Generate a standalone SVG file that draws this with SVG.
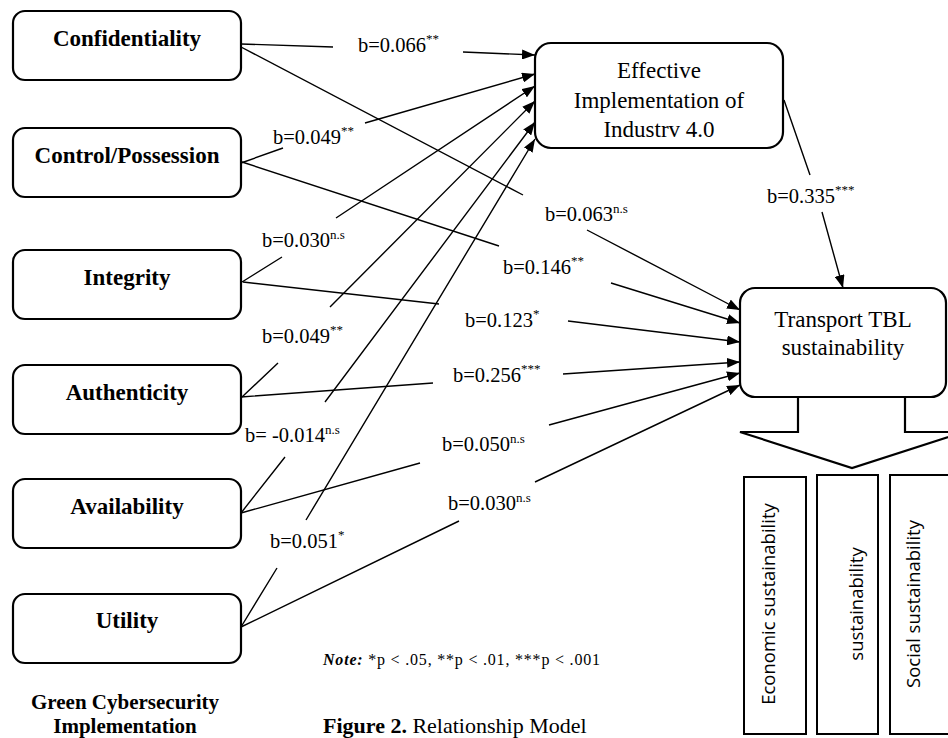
<svg xmlns="http://www.w3.org/2000/svg" width="948" height="738" viewBox="0 0 948 738">
<style>
.box{fill:#fff;stroke:#000;stroke-width:2.2}
.vbox{fill:#fff;stroke:#000;stroke-width:2}
.conn{fill:none;stroke:#000;stroke-width:1.4}
.nl{font-family:"Liberation Serif","Times New Roman",serif;font-weight:bold;font-size:23px;text-anchor:middle;fill:#000}
.rl{font-family:"Liberation Serif","Times New Roman",serif;font-size:23px;text-anchor:middle;fill:#000}
.lab{font-family:"Liberation Serif","Times New Roman",serif;font-size:20.5px;fill:#000}
.sup{font-size:13px}
.vt{font-family:"Open Sans","Noto Sans",sans-serif;font-size:18.5px;text-anchor:middle;fill:#000}
.cap{font-family:"Liberation Serif","Times New Roman",serif;fill:#000}
</style>
<defs>
<marker id="ah" markerUnits="userSpaceOnUse" markerWidth="14" markerHeight="10" refX="13" refY="5" orient="auto">
<path d="M0,0 L13,5 L0,10 z" fill="#000"/>
</marker>
</defs>

<g id="connectors">
<path class="conn" d="M241,44 L333,47 M463,52 L535,55" marker-end="url(#ah)"/>
<path class="conn" d="M241,163 L283,148 M365,123 L535,74" marker-end="url(#ah)"/>
<path class="conn" d="M242,282 L282,257 M336,218 L535,86" marker-end="url(#ah)"/>
<path class="conn" d="M242,397 L278,363 M330,307 L535,101" marker-end="url(#ah)"/>
<path class="conn" d="M241,513 L285,457 M325,402 L535,122" marker-end="url(#ah)"/>
<path class="conn" d="M241,627 L277,568 M306,520 L535,139" marker-end="url(#ah)"/>
<path class="conn" d="M241,47 L523,195 M587,230 L740,310" marker-end="url(#ah)"/>
<path class="conn" d="M242,162 L499,246 M611,283 L740,323" marker-end="url(#ah)"/>
<path class="conn" d="M243,282 L439,304 M568,321 L740,342" marker-end="url(#ah)"/>
<path class="conn" d="M241,397 L433,383 M563,374 L740,362" marker-end="url(#ah)"/>
<path class="conn" d="M241,513 L420,463 M549,425 L740,373" marker-end="url(#ah)"/>
<path class="conn" d="M241,627 L459,521 M535,482 L740,385" marker-end="url(#ah)"/>
<path class="conn" d="M784,100 L810,175 M822,212 L843,288" marker-end="url(#ah)"/>
</g>

<g id="labels">
<text class="lab" x="358" y="52">b=0.066<tspan class="sup" dy="-9">**</tspan></text>
<text class="lab" x="273" y="144">b=0.049<tspan class="sup" dy="-9">**</tspan></text>
<text class="lab" x="262" y="247">b=0.030<tspan class="sup" dy="-8">n.s</tspan></text>
<text class="lab" x="262" y="343">b=0.049<tspan class="sup" dy="-9">**</tspan></text>
<text class="lab" x="245" y="442">b= -0.014<tspan class="sup" dy="-8">n.s</tspan></text>
<text class="lab" x="270" y="548">b=0.051<tspan class="sup" dy="-9">*</tspan></text>
<text class="lab" x="545" y="221">b=0.063<tspan class="sup" dy="-8">n.s</tspan></text>
<text class="lab" x="503" y="274">b=0.146<tspan class="sup" dy="-9">**</tspan></text>
<text class="lab" x="465" y="327">b=0.123<tspan class="sup" dy="-9">*</tspan></text>
<text class="lab" x="453" y="382">b=0.256<tspan class="sup" dy="-9">***</tspan></text>
<text class="lab" x="442" y="451">b=0.050<tspan class="sup" dy="-8">n.s</tspan></text>
<text class="lab" x="448" y="510">b=0.030<tspan class="sup" dy="-8">n.s</tspan></text>
<text class="lab" x="767" y="203">b=0.335<tspan class="sup" dy="-9">***</tspan></text>
</g>

<g id="confidentiality"><rect class="box" x="13" y="11" width="228" height="69" rx="12"/><text class="nl" x="127" y="46">Confidentiality</text></g>
<g id="control-possession"><rect class="box" x="13" y="128" width="228" height="69" rx="12"/><text class="nl" x="127" y="163">Control/Possession</text></g>
<g id="integrity"><rect class="box" x="13" y="250" width="228" height="69" rx="12"/><text class="nl" x="127" y="285">Integrity</text></g>
<g id="authenticity"><rect class="box" x="13" y="365" width="228" height="69" rx="12"/><text class="nl" x="127" y="400">Authenticity</text></g>
<g id="availability"><rect class="box" x="13" y="479" width="228" height="69" rx="12"/><text class="nl" x="127" y="514">Availability</text></g>
<g id="utility"><rect class="box" x="13" y="594" width="228" height="69" rx="12"/><text class="nl" x="127" y="628">Utility</text></g>

<g id="effective-implementation"><rect class="box" x="535" y="43" width="248" height="105" rx="16"/>
<text class="rl" x="659" y="78">Effective</text>
<text class="rl" x="659" y="108">Implementation of</text>
<text class="rl" x="659" y="137">Industrv 4.0</text></g>

<g id="transport-tbl">
<path class="box" d="M798,397 V432 H740 L852,468 L964,432 H905 V397" style="fill:none"/>
<rect class="box" x="740" y="288" width="206" height="109" rx="15"/>
<text class="rl" x="843" y="327">Transport TBL</text>
<text class="rl" x="843" y="355">sustainability</text></g>

<g id="economic"><rect class="vbox" x="744" y="477" width="62" height="257"/><text class="vt" transform="translate(775,604) rotate(-90)">Economic sustainability</text></g>
<g id="environmental"><rect class="vbox" x="817" y="475" width="61" height="259"/><text class="vt" transform="translate(863,604) rotate(-90)">sustainability</text></g>
<g id="social"><rect class="vbox" x="890" y="475" width="70" height="259"/><text class="vt" transform="translate(920,604) rotate(-90)">Social sustainability</text></g>

<g id="captions">
<text class="cap" x="125" y="709" font-size="21" font-weight="bold" text-anchor="middle">Green Cybersecurity</text>
<text class="cap" x="125" y="733" font-size="21" font-weight="bold" text-anchor="middle">Implementation</text>
<text class="cap" x="323" y="665" font-size="16" textLength="277" lengthAdjust="spacing"><tspan font-weight="bold" font-style="italic">Note:</tspan> *p &lt; .05, **p &lt; .01, ***p &lt; .001</text>
<text class="cap" x="323" y="733" font-size="22"><tspan font-weight="bold">Figure 2.</tspan> Relationship Model</text>
</g>
</svg>
